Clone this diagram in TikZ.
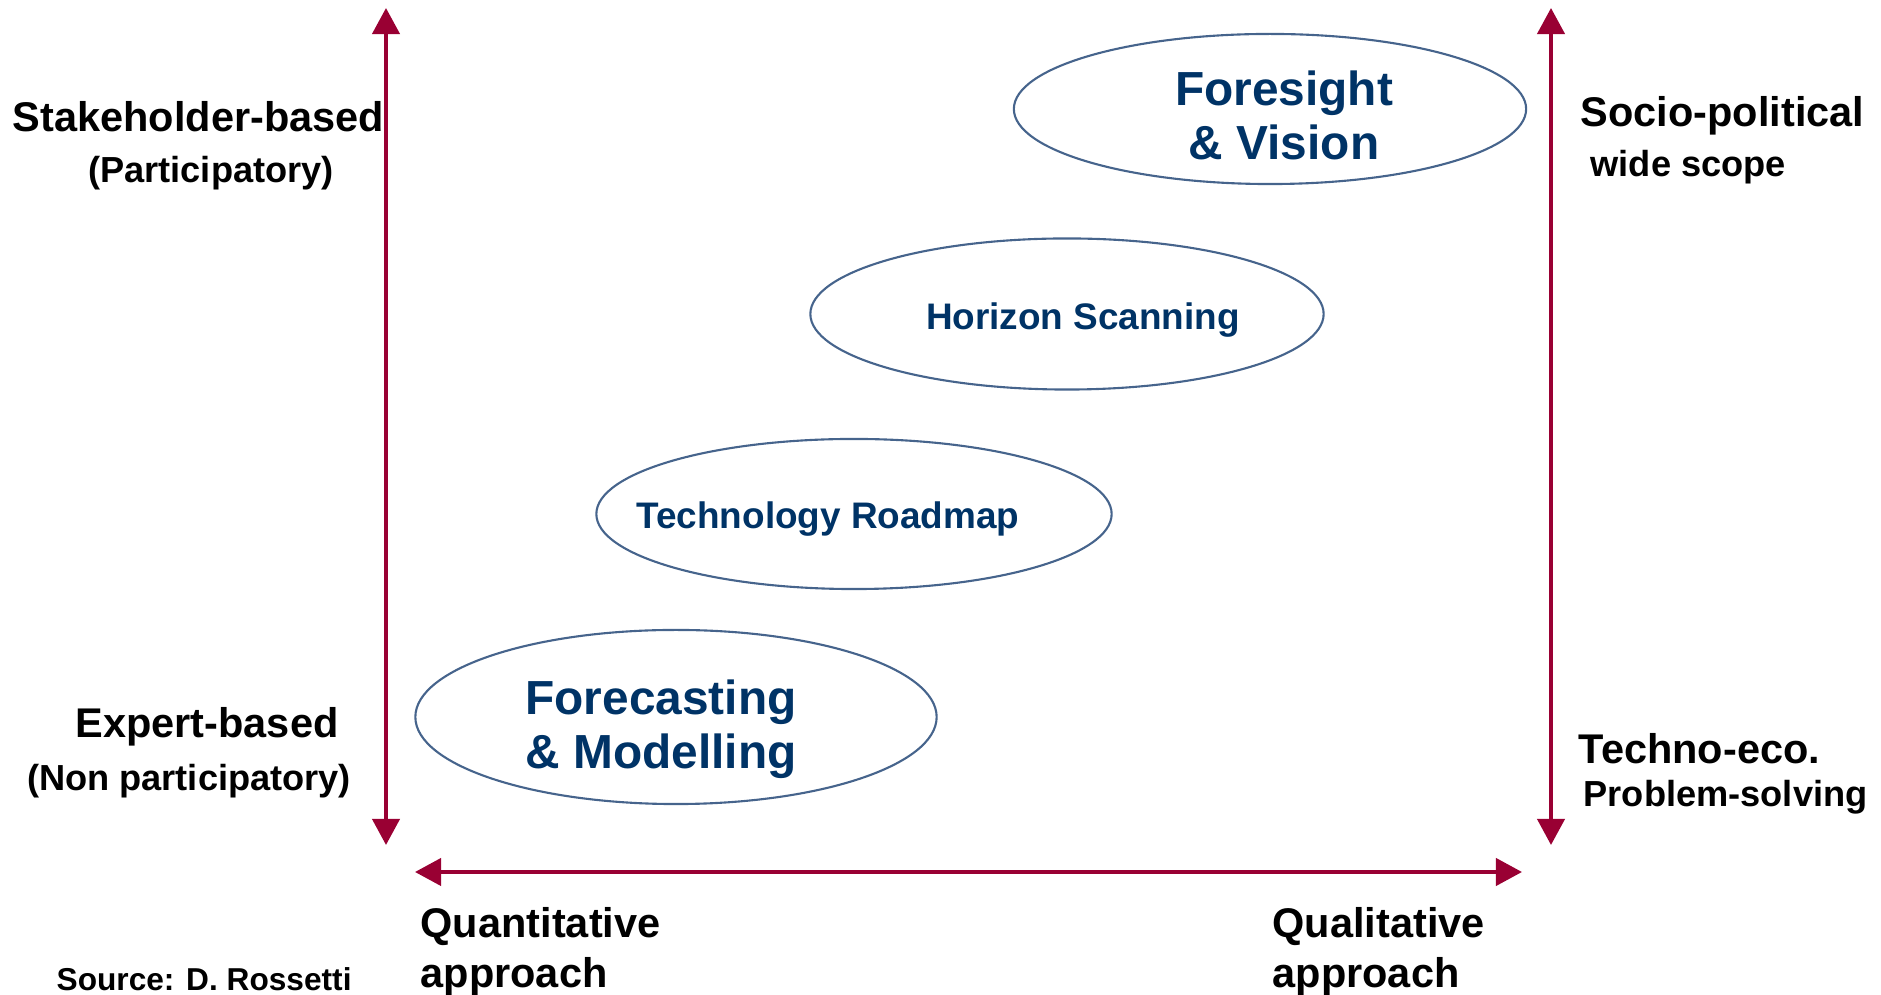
\documentclass[tikz,border=0pt]{standalone}
\usepackage{fontspec}
\setmainfont{Liberation Sans}
\usepackage{tikz}
\usetikzlibrary{arrows.meta}
\usetikzlibrary{shapes.geometric}

\definecolor{axisred}{RGB}{153,0,51}
\definecolor{navy}{RGB}{0,51,102}
\definecolor{rim}{RGB}{70,100,140}

\tikzset{
  axis/.style={draw=axisred, line width=0.04cm, {Triangle[width=0.27cm,length=0.26cm]}-{Triangle[width=0.27cm,length=0.26cm]}},
  blob/.style={ellipse, draw=rim, line width=0.6pt, inner sep=0pt},
  side/.style={font=\bfseries\fontsize{11.8}{14.2}\selectfont, inner sep=0pt},
  sub/.style={font=\bfseries\fontsize{10.3}{12.4}\selectfont, inner sep=0pt},
  big/.style={text=navy, align=center, inner sep=0pt, font=\bfseries\fontsize{13.6}{15.4}\selectfont},
  small/.style={text=navy, inner sep=0pt, font=\bfseries\fontsize{10.5}{12.6}\selectfont}
}

\begin{document}
\begin{tikzpicture}[x=0.01cm, y=-0.01cm]

\useasboundingbox (0,0) rectangle (1881,995);

\coordinate (lt) at (386,8);
\coordinate (lb) at (386,845);
\coordinate (rt) at (1551,8);
\coordinate (rb) at (1551,845);
\coordinate (hl) at (415,872);
\coordinate (hr) at (1522,872);

\draw [axis] (lb) -- (lt);
\draw [axis] (rb) -- (rt);
\draw [axis] (hl) -- (hr);

\node[blob, minimum width=5.12cm, minimum height=1.50cm] (fv) at (1270,109) {};
\node[blob, minimum width=5.13cm, minimum height=1.51cm] (hs) at (1067,314) {};
\node[blob, minimum width=5.15cm, minimum height=1.50cm] (tr) at (854,514) {};
\node[blob, minimum width=5.21cm, minimum height=1.74cm] (fm) at (676,717) {};

\node[big] (fvtext) at (1284,115) {Foresight\\ \& Vision};
\node[small, anchor=base] (hstext) at (1083,330) {Horizon Scanning};
\node[small, anchor=base] (trtext) at (828,529) {Technology Roadmap};
\node[big] (fmtext) at (661,729) {Forecasting\\ \& Modelling};

\node[side, anchor=base west] (stake) at (12,132) {Stakeholder-based};
\node[sub, anchor=base] (part) at (211,183) {(Participatory)};
\node[side, anchor=base] (expert) at (207,738) {Expert-based};
\node[sub, anchor=base] (nonpart) at (189,791) {(Non participatory)};

\node[side, anchor=base west] (socio) at (1580,127) {Socio-political};
\node[sub, anchor=base west] (wide) at (1590,177) {wide scope};
\node[side, anchor=base west] (techno) at (1578,764) {Techno-eco.};
\node[sub, anchor=base west] (probl) at (1583,807) {Problem-solving};

\node[side, anchor=base west] (quant) at (420,938) {Quantitative};
\node[side, anchor=base west] (quantb) at (420,988) {approach};
\node[side, anchor=base west] (qual) at (1272,938) {Qualitative};
\node[side, anchor=base west] (qualb) at (1272,988) {approach};

\node[anchor=base west, inner sep=0pt, font=\bfseries\fontsize{9}{11}\selectfont] (src) at (56,991) {Source: D. Rossetti};

\end{tikzpicture}
\end{document}
